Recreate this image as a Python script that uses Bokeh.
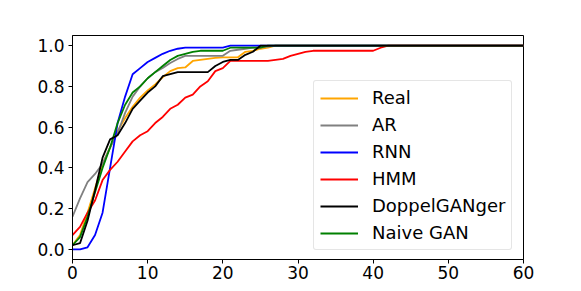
from bokeh.plotting import figure
from bokeh.models import Legend, LegendItem, FixedTicker, NumeralTickFormatter, Range1d
from bokeh.embed import file_html
from bokeh.resources import INLINE

x = [0, 1, 2, 3, 4, 5, 6, 7, 8, 9,
     10, 11, 12, 13, 14, 15, 16, 17, 18, 19,
     20, 21, 22, 23, 24, 25, 26, 27, 28, 29,
     30, 31, 32, 33, 34, 35, 36, 37, 38, 39,
     40, 41, 42, 60]

real = [0.02, 0.07, 0.18, 0.30, 0.42, 0.50, 0.58, 0.645, 0.70, 0.745,
        0.78, 0.81, 0.845, 0.875, 0.89, 0.893, 0.925, 0.93, 0.935, 0.94,
        0.943, 0.943, 0.943, 0.97, 0.975, 0.985, 0.99, 1.0, 1.0, 1.0,
        1.0, 1.0, 1.0, 1.0, 1.0, 1.0, 1.0, 1.0, 1.0, 1.0,
        1.0, 1.0, 1.0, 1.0]

ar = [0.16, 0.25, 0.33, 0.37, 0.42, 0.50, 0.57, 0.67, 0.75, 0.80,
      0.84, 0.87, 0.89, 0.915, 0.935, 0.95, 0.95, 0.95, 0.95, 0.95,
      0.95, 0.975, 0.98, 0.985, 0.99, 0.99, 0.995, 1.0, 1.0, 1.0,
      1.0, 1.0, 1.0, 1.0, 1.0, 1.0, 1.0, 1.0, 1.0, 1.0,
      1.0, 1.0, 1.0, 1.0]

rnn = [0.0, 0.0, 0.01, 0.07, 0.18, 0.40, 0.62, 0.75, 0.86, 0.89,
       0.92, 0.94, 0.96, 0.975, 0.985, 0.99, 0.99, 0.99, 0.99, 0.99,
       0.99, 1.0, 1.0, 1.0, 1.0, 1.0, 1.0, 1.0, 1.0, 1.0,
       1.0, 1.0, 1.0, 1.0, 1.0, 1.0, 1.0, 1.0, 1.0, 1.0,
       1.0, 1.0, 1.0, 1.0]

hmm = [0.07, 0.11, 0.18, 0.24, 0.34, 0.39, 0.43, 0.48, 0.53, 0.56,
       0.58, 0.62, 0.65, 0.69, 0.71, 0.745, 0.76, 0.80, 0.825, 0.875,
       0.89, 0.925, 0.925, 0.925, 0.925, 0.925, 0.925, 0.93, 0.935, 0.95,
       0.96, 0.97, 0.975, 0.975, 0.975, 0.975, 0.975, 0.975, 0.975, 0.975,
       0.975, 0.99, 1.0, 1.0]

dg = [0.02, 0.03, 0.14, 0.29, 0.45, 0.54, 0.56, 0.62, 0.69, 0.73,
      0.77, 0.80, 0.85, 0.86, 0.87, 0.87, 0.87, 0.87, 0.87, 0.90,
      0.92, 0.93, 0.93, 0.955, 0.97, 1.0, 1.0, 1.0, 1.0, 1.0,
      1.0, 1.0, 1.0, 1.0, 1.0, 1.0, 1.0, 1.0, 1.0, 1.0,
      1.0, 1.0, 1.0, 1.0]

gan = [0.02, 0.06, 0.16, 0.28, 0.40, 0.50, 0.62, 0.71, 0.77, 0.80,
       0.84, 0.87, 0.90, 0.93, 0.95, 0.96, 0.97, 0.975, 0.975, 0.975,
       0.975, 0.99, 0.99, 0.99, 0.99, 0.99, 1.0, 1.0, 1.0, 1.0,
       1.0, 1.0, 1.0, 1.0, 1.0, 1.0, 1.0, 1.0, 1.0, 1.0,
       1.0, 1.0, 1.0, 1.0]

labels = ["Real", "AR", "RNN", "HMM", "DoppelGANger", "Naive GAN"]
colors = ["orange", "gray", "blue", "red", "black", "green"]
series = [real, ar, rnn, hmm, dg, gan]

xticks = [0, 10, 20, 30, 40, 50, 60]
yticks = [0.0, 0.2, 0.4, 0.6, 0.8, 1.0]

FONT = "DejaVu Sans"

p = figure(width=581, height=291, output_backend="svg", toolbar_location=None,
           x_range=Range1d(0, 60), y_range=Range1d(-0.05, 1.05),
           min_border_left=72, min_border_right=58, min_border_top=35, min_border_bottom=32)

renderers = {}
draw_order = [0, 1, 2, 3, 5, 4]
for i in draw_order:
    renderers[i] = p.line(x, series[i], line_color=colors[i], line_width=1.8)

items = [LegendItem(label=labels[i], renderers=[renderers[i]]) for i in range(len(labels))]
legend = Legend(items=items, location=(241, 9), margin=0, padding=6, spacing=6,
                glyph_width=38, glyph_height=20, label_height=20, label_standoff=14,
                label_text_font=FONT, label_text_font_size="18px", label_text_color="black",
                border_line_color="#cccccc", border_line_width=1, border_radius=3,
                background_fill_color="white", background_fill_alpha=0.8)
p.add_layout(legend)

p.xaxis.ticker = FixedTicker(ticks=xticks)
p.yaxis.ticker = FixedTicker(ticks=yticks)
p.yaxis.formatter = NumeralTickFormatter(format="0.0")
for ax in (p.xaxis, p.yaxis):
    ax.major_label_text_font = FONT
    ax.major_label_text_font_size = "17px"
    ax.major_label_text_color = "black"
    ax.axis_line_color = "black"
    ax.major_tick_line_color = "black"
    ax.major_tick_in = 0
    ax.major_tick_out = 4
    ax.minor_tick_line_color = None
p.xaxis.major_label_standoff = 2
p.yaxis.major_label_standoff = 4

p.xgrid.grid_line_color = None
p.ygrid.grid_line_color = None
p.outline_line_color = "black"
p.outline_line_alpha = 1.0
p.outline_line_width = 1

open("out.html", "w").write(file_html(p, INLINE))
